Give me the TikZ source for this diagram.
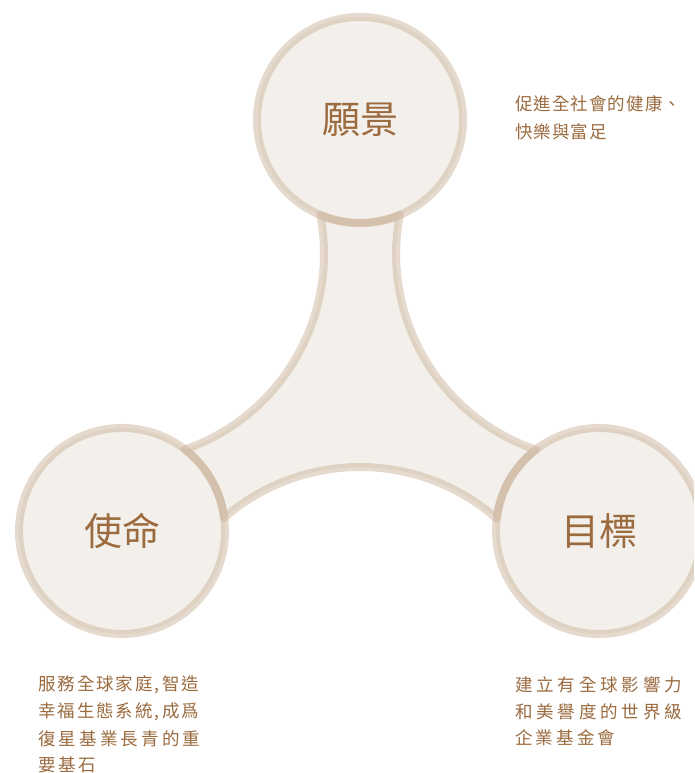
\documentclass[tikz,border=0pt]{standalone}
\usepackage{fontspec}
\newfontfamily\cjk{Noto Sans CJK TC}
\definecolor{txtbrown}{HTML}{9B6B3F}
\definecolor{bubblefill}{HTML}{F3F0EB}
\definecolor{ringtan}{HTML}{C8AE93}
\tikzset{
  bubble/.style={circle, minimum size=206pt, inner sep=0pt, fill=bubblefill,
    draw=ringtan, draw opacity=0.45, line width=8pt, text=txtbrown,
    font=\cjk\fontsize{38}{44}\selectfont},
  hubfill/.style={fill=bubblefill},
  hubline/.style={draw=ringtan, draw opacity=0.45, line width=8pt, line join=round},
  note/.style={anchor=west, inner sep=0pt, text=txtbrown},
  ls/.style={font=\cjk\fontsize{17.5}{20}\selectfont\addfontfeature{LetterSpace=#1}},
}
\newcommand\hubpath{(320.3,557.8)
  arc[start angle=10.8,end angle=-70.82,radius=207]
  arc[start angle=52.3,end angle=7.36,radius=103]
  arc[start angle=131.0,end angle=48.67,radius=207]
  arc[start angle=173.1,end angle=127.9,radius=103]
  arc[start angle=250.98,end angle=169.13,radius=207]
  arc[start angle=-67.2,end angle=-112.6,radius=103] -- cycle}
\begin{document}
\begin{tikzpicture}[x=1pt,y=1pt]
\fill[white] (0,0) rectangle (694,773);
\useasboundingbox (0,0) rectangle (694,773);
\clip (0,0) rectangle (694,773);
% central hub (fill)
\path[hubfill] \hubpath;
% circles
\node[bubble] (vision) at (360,653) {願景};
\node[bubble] (mission) at (122,242) {使命};
\node[bubble] (goal) at (599,242) {目標};
% central hub (outline)
\path[hubline] \hubpath;
% notes
\node[note, ls=6] (v1) at (515,669) {促進全社會的健康、};
\node[note, ls=6] (v2) at (515,641.5) {快樂與富足};
\node[note, ls=11] (m1) at (38,88) {服務全球家庭,\kern2.5pt智造};
\node[note, ls=11] (m2) at (38,61) {幸福生態系統,\kern2.5pt成爲};
\node[note, ls=18] (m3) at (38,34) {復星基業長青的重};
\node[note, ls=14] (m4) at (38,8) {要基石};
\node[note, ls=22] (g1) at (515,88) {建立有全球影響力};
\node[note, ls=22] (g2) at (515,61) {和美譽度的世界級};
\node[note, ls=18] (g3) at (515,35) {企業基金會};
\end{tikzpicture}
\end{document}
